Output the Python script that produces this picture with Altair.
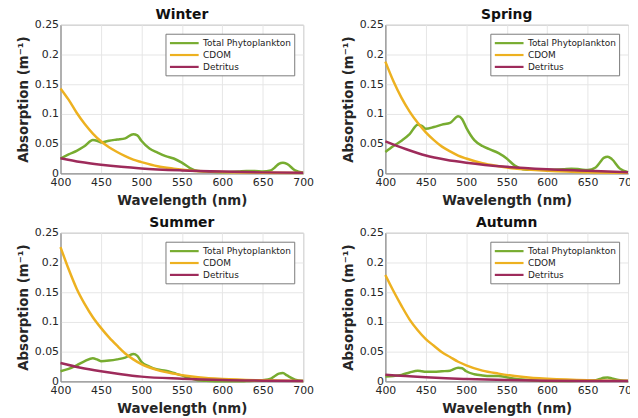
import altair as alt
import pandas as pd

seasons = ["Winter", "Spring", "Summer", "Autumn"]
components = ["Total Phytoplankton", "CDOM", "Detritus"]
colors = ["#77AC30", "#EDB120", "#9E2B5B"]

x_ticks = [400, 450, 500, 550, 600, 650, 700]
y_ticks = [0, 0.05, 0.1, 0.15, 0.2, 0.25]

# Total phytoplankton absorption
phyto_wl = [400, 410, 420, 430, 440, 445, 450, 460, 470, 480, 490, 495, 500, 510,
            520, 530, 540, 550, 560, 570, 580, 600, 620, 630, 640, 650, 660, 665,
            670, 675, 680, 690, 700]
phyto_winter = [0.025, 0.032, 0.038, 0.046, 0.056, 0.055, 0.052, 0.055, 0.057, 0.059,
                0.066, 0.064, 0.055, 0.042, 0.035, 0.029, 0.025, 0.018, 0.009, 0.004,
                0.003, 0.002, 0.003, 0.004, 0.004, 0.003, 0.005, 0.010, 0.016, 0.018,
                0.016, 0.005, 0.001]
phyto_spring = [0.036, 0.046, 0.055, 0.066, 0.082, 0.080, 0.075, 0.078, 0.082, 0.085,
                0.096, 0.091, 0.077, 0.056, 0.046, 0.040, 0.034, 0.025, 0.013, 0.007,
                0.006, 0.006, 0.007, 0.008, 0.007, 0.0055, 0.010, 0.018, 0.026, 0.028,
                0.024, 0.008, 0.002]
phyto_summer = [0.017, 0.021, 0.027, 0.034, 0.039, 0.037, 0.034, 0.035, 0.037, 0.040,
                0.046, 0.043, 0.033, 0.025, 0.020, 0.018, 0.014, 0.010, 0.005, 0.002,
                0.001, 0.0, 0.0, 0.0005, 0.001, 0.002, 0.0045, 0.009, 0.013, 0.014,
                0.010, 0.003, 0.0005]
phyto_autumn = [0.008, 0.009, 0.011, 0.015, 0.018, 0.017, 0.016, 0.016, 0.017, 0.018,
                0.023, 0.022, 0.017, 0.012, 0.010, 0.009, 0.009, 0.007, 0.0045, 0.003,
                0.002, 0.0005, 0.0005, 0.0008, 0.001, 0.0012, 0.002, 0.004, 0.006, 0.0067,
                0.005, 0.002, 0.0005]

# CDOM absorption
cdom_wl = [400, 410, 420, 430, 440, 450, 460, 470, 480, 490, 500, 520, 540, 560,
           580, 600, 650, 700]
cdom_winter = [0.143, 0.124, 0.102, 0.083, 0.067, 0.054, 0.044, 0.036, 0.029, 0.023,
               0.019, 0.012, 0.008, 0.005, 0.0035, 0.0025, 0.0012, 0.0005]
cdom_spring = [0.188, 0.155, 0.127, 0.104, 0.085, 0.069, 0.056, 0.045, 0.037, 0.030,
               0.025, 0.017, 0.012, 0.008, 0.006, 0.0045, 0.002, 0.001]
cdom_summer = [0.226, 0.189, 0.156, 0.130, 0.108, 0.090, 0.074, 0.060, 0.047, 0.037,
               0.029, 0.019, 0.013, 0.0085, 0.0055, 0.004, 0.0017, 0.0006]
cdom_autumn = [0.179, 0.152, 0.127, 0.104, 0.086, 0.071, 0.060, 0.049, 0.041, 0.033,
               0.027, 0.018, 0.013, 0.009, 0.006, 0.0045, 0.002, 0.001]

# Detritus absorption
det_wl = [400, 425, 450, 475, 500, 550, 600, 650, 700]
det_winter = [0.0255, 0.019, 0.0145, 0.011, 0.0083, 0.005, 0.003, 0.0017, 0.001]
det_spring = [0.054, 0.041, 0.030, 0.023, 0.018, 0.011, 0.007, 0.0045, 0.002]
det_summer = [0.031, 0.023, 0.017, 0.012, 0.008, 0.0045, 0.0022, 0.0012, 0.0006]
det_autumn = [0.011, 0.009, 0.007, 0.0053, 0.004, 0.0022, 0.0012, 0.0008, 0.0005]

series = {
    "Winter": (phyto_winter, cdom_winter, det_winter),
    "Spring": (phyto_spring, cdom_spring, det_spring),
    "Summer": (phyto_summer, cdom_summer, det_summer),
    "Autumn": (phyto_autumn, cdom_autumn, det_autumn),
}

FONT = "DejaVu Sans"


def season_df(season):
    ph, cd, de = series[season]
    rows = []
    for w, v in zip(phyto_wl, ph):
        rows.append({"wl": w, "a": v, "comp": components[0], "o": 0})
    for w, v in zip(cdom_wl, cd):
        rows.append({"wl": w, "a": v, "comp": components[1], "o": 1})
    for w, v in zip(det_wl, de):
        rows.append({"wl": w, "a": v, "comp": components[2], "o": 2})
    return pd.DataFrame(rows)


def panel(season):
    return alt.Chart(season_df(season)).mark_line(
        strokeWidth=2.5, interpolate="monotone"
    ).encode(
        x=alt.X("wl:Q",
                scale=alt.Scale(domain=[400, 700], nice=False, zero=False),
                axis=alt.Axis(values=x_ticks, title="Wavelength (nm)", format="d",
                              labelFlush=False, labelPadding=3, titlePadding=6)),
        y=alt.Y("a:Q",
                scale=alt.Scale(domain=[0, 0.25], nice=False),
                axis=alt.Axis(values=y_ticks, title="Absorption (m⁻¹)", format="~g",
                              labelFlush=False)),
        color=alt.Color("comp:N",
                        scale=alt.Scale(domain=components, range=colors),
                        legend=alt.Legend(
                            title=None, orient="top-right", offset=9,
                            fillColor="white", strokeColor="#7a7a7a",
                            padding=3, symbolType="M-1,0L4.8,0", symbolSize=100,
                            symbolStrokeWidth=2.2, labelFontSize=9, labelFont=FONT,
                            labelColor="#222222", rowPadding=-2, labelOffset=22)),
        order=alt.Order("o:Q"),
        detail="comp:N",
    ).properties(width=245, height=150,
                 title=alt.TitleParams(season, frame="group"))


row1 = alt.hconcat(panel("Winter"), panel("Spring"), spacing=27).resolve_scale(
    color="independent").resolve_legend(color="independent")
row2 = alt.hconcat(panel("Summer"), panel("Autumn"), spacing=27).resolve_scale(
    color="independent").resolve_legend(color="independent")

chart = alt.vconcat(row1, row2, spacing=8).resolve_scale(
    color="independent").resolve_legend(color="independent").properties(
    padding={"left": 8, "top": -3, "right": -9, "bottom": 0}
).configure_view(
    stroke="#8a8a8a", strokeWidth=1
).configure_axis(
    labelFont=FONT, labelFontSize=11, labelColor="#262626",
    titleFont=FONT, titleFontSize=13.5, titleFontWeight="bold", titleColor="#262626",
    gridColor="#e6e6e6", gridWidth=1, domainColor="#8a8a8a",
    ticks=False, labelPadding=2, titlePadding=4,
).configure_title(
    font=FONT, fontSize=14, fontWeight="bold", color="#111111", offset=-3
)

chart.save("out.html", embed_options={"renderer": "svg", "actions": False})
